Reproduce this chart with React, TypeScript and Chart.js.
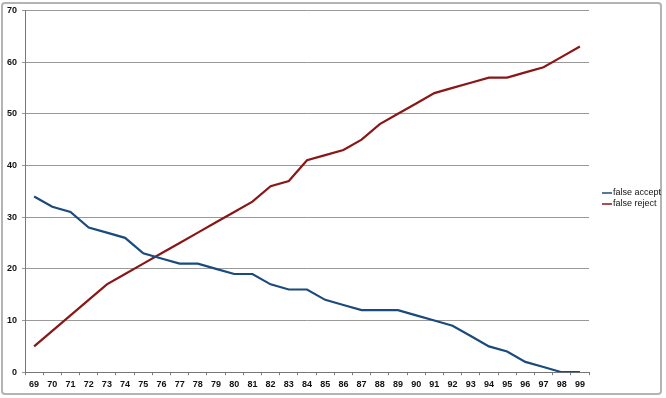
import React, { useEffect, useRef } from "react";
import { Chart, registerables } from "chart.js";

Chart.register(...registerables);

const categories = [
  "69", "70", "71", "72", "73", "74", "75", "76", "77", "78", "79", "80", "81", "82", "83", "84",
  "85", "86", "87", "88", "89", "90", "91", "92", "93", "94", "95", "96", "97", "98", "99",
];
const falseAccept = [34, 32, 31, 28, 27, 26, 23, 22, 21, 21, 20, 19, 19, 17, 16, 16, 14, 13, 12, 12, 12, 11, 10, 9, 7, 5, 4, 2, 1, 0, 0];
const falseReject = [5, 8, 11, 14, 17, 19, 21, 23, 25, 27, 29, 31, 33, 36, 37, 41, 42, 43, 45, 48, 50, 52, 54, 55, 56, 57, 57, 58, 59, 61, 63];
const seriesNames = ["false accept", "false reject"];
const seriesColors = ["#1B4A7E", "#8B1616"];

const frameAndLegend = {
  id: "frameAndLegend",
  beforeDraw(chart: any) {
    const ctx = chart.ctx;
    ctx.save();
    ctx.fillStyle = "#ffffff";
    ctx.fillRect(0, 0, chart.width, chart.height);
    ctx.restore();
  },
  afterDraw(chart: any) {
    const ctx = chart.ctx;
    ctx.save();
    ctx.strokeStyle = "#b4b4b4";
    ctx.lineWidth = 2;
    ctx.beginPath();
    if (ctx.roundRect) ctx.roundRect(2, 3, 659, 391, 3);
    else ctx.rect(2, 3, 659, 391);
    ctx.stroke();
    // legend
    ctx.font = "9px 'Liberation Sans', Arial, sans-serif";
    ctx.textBaseline = "middle";
    chart.data.datasets.forEach((ds: any, i: number) => {
      const y = 193 + i * 11;
      ctx.strokeStyle = ds.borderColor;
      ctx.lineWidth = 1.5;
      ctx.beginPath();
      ctx.moveTo(602, y);
      ctx.lineTo(612, y);
      ctx.stroke();
      ctx.fillStyle = "#111";
      ctx.fillText(ds.label, 613, y);
    });
    ctx.restore();
  },
};

export default function App() {
  const ref = useRef<HTMLCanvasElement | null>(null);
  useEffect(() => {
    document.body.style.margin = "0";
    const chart = new Chart(ref.current!, {
      type: "line",
      data: {
        labels: categories,
        datasets: [
          {
            label: seriesNames[0],
            data: falseAccept,
            borderColor: seriesColors[0],
            backgroundColor: seriesColors[0],
            borderWidth: 2.2,
            pointRadius: 0,
            tension: 0,
          },
          {
            label: seriesNames[1],
            data: falseReject,
            borderColor: seriesColors[1],
            backgroundColor: seriesColors[1],
            borderWidth: 2.2,
            pointRadius: 0,
            tension: 0,
          },
        ],
      },
      options: {
        responsive: false,
        animation: false,
        layout: { padding: { left: 2, right: 77, top: 8, bottom: 4 } },
        plugins: { legend: { display: false }, tooltip: { enabled: false } },
        scales: {
          x: {
            offset: true,
            grid: {
              display: true,
              drawOnChartArea: false,
              drawTicks: true,
              tickLength: 3,
              color: "#777",
              offset: true,
            },
            border: { color: "#777", width: 1 },
            ticks: {
              autoSkip: false,
              maxRotation: 0,
              color: "#111",
              padding: 4,
              font: { family: "'Liberation Sans', Arial, sans-serif", size: 9, weight: "bold" },
            },
          },
          y: {
            min: 0,
            max: 70,
            ticks: {
              stepSize: 10,
              color: "#111",
              padding: 5,
              font: { family: "'Liberation Sans', Arial, sans-serif", size: 9, weight: "bold" },
            },
            grid: { color: "#999", tickLength: 3, lineWidth: 1 },
            border: { color: "#777", width: 1 },
          },
        },
      },
      plugins: [frameAndLegend],
    });
    return () => chart.destroy();
  }, []);
  return <canvas ref={ref} width={666} height={398} style={{ display: "block" }} />;
}
